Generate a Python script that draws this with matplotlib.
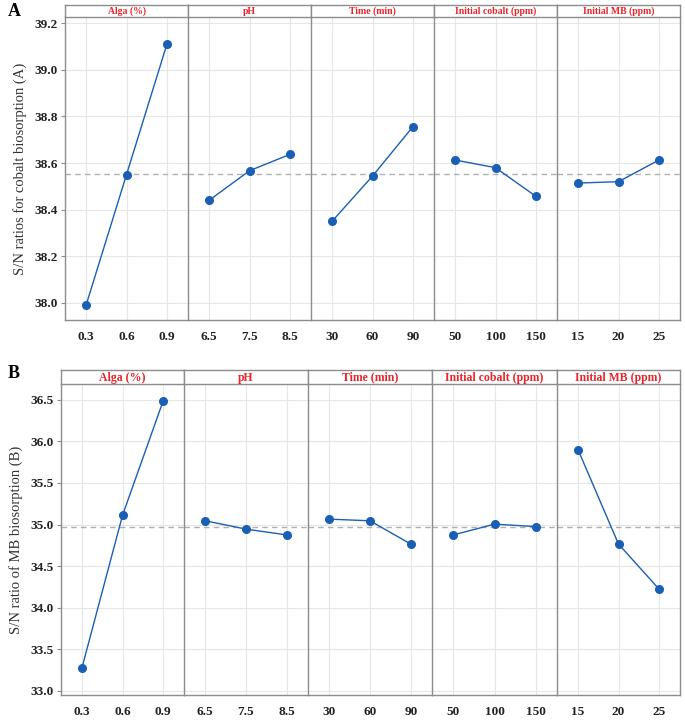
import matplotlib.pyplot as plt

factors = ["Alga (%)", "pH", "Time (min)", "Initial cobalt (ppm)", "Initial MB (ppm)"]
levels = [["0.3", "0.6", "0.9"],
          ["6.5", "7.5", "8.5"],
          ["30", "60", "90"],
          ["50", "100", "150"],
          ["15", "20", "25"]]

# S/N ratios, cobalt biosorption (A)
sn_alga_a = [37.99, 38.55, 39.11]
sn_ph_a = [38.44, 38.567, 38.637]
sn_time_a = [38.35, 38.544, 38.756]
sn_cobalt_a = [38.613, 38.58, 38.457]
sn_mb_a = [38.514, 38.52, 38.613]
mean_a = 38.552

# S/N ratios, MB biosorption (B)
sn_alga_b = [33.28, 35.11, 36.48]
sn_ph_b = [35.045, 34.945, 34.875]
sn_time_b = [35.065, 35.045, 34.765]
sn_cobalt_b = [34.875, 35.005, 34.975]
sn_mb_b = [35.9, 34.765, 34.225]
mean_b = 34.965

series_a = [sn_alga_a, sn_ph_a, sn_time_a, sn_cobalt_a, sn_mb_a]
series_b = [sn_alga_b, sn_ph_b, sn_time_b, sn_cobalt_b, sn_mb_b]

W, H = 685, 720
BLUE = "#1a5fb4"
RED = "#e8242a"
EDGE = "#8c8c8c"
SERIF = ["Liberation Serif", "DejaVu Serif"]

fig = plt.figure(figsize=(W / 100, H / 100), dpi=100)


def draw_panel(series, mean, edges, y_top, y_bot, strip_h, ylim, yticks,
               ylabel, letter, letter_y, strip_fs, label_x):
    for i, vals in enumerate(series):
        x0, x1 = edges[i], edges[i + 1]
        ax = fig.add_axes([x0 / W, 1 - y_bot / H, (x1 - x0) / W, (y_bot - y_top) / H])
        ax.plot([1, 2, 3], vals, color=BLUE, lw=1, marker="o", ms=5.5,
                mec=BLUE, mfc=BLUE, zorder=3)
        ax.axhline(mean, color="#b0b0b0", lw=1, ls=(0, (4, 3)), zorder=2)
        ax.set_xlim(0.48, 3.52)
        ax.set_ylim(*ylim)
        ax.set_xticks([1, 2, 3])
        ax.set_xticklabels(levels[i], family=SERIF, fontsize=9.5,
                           fontweight="bold", color="#222222")
        ax.set_yticks(yticks)
        ax.grid(True, color="#e6e6e6", lw=0.8, zorder=0)
        ax.set_axisbelow(True)
        for s in ax.spines.values():
            s.set_color(EDGE)
            s.set_linewidth(1)
        ax.spines["top"].set_visible(False)
        ax.tick_params(axis="x", length=0, pad=8)
        if i == 0:
            ax.set_yticklabels([f"{t:.1f}" for t in yticks], family=SERIF,
                               fontsize=9.5, fontweight="bold", color="#222222")
            ax.tick_params(axis="y", length=3, color=EDGE, pad=2)
        else:
            ax.tick_params(axis="y", length=0, labelleft=False)
        if i < len(series) - 1:
            ax.spines["right"].set_visible(False)

        # header strip
        sx = fig.add_axes([x0 / W, 1 - y_top / H, (x1 - x0) / W, strip_h / H])
        sx.set_xticks([])
        sx.set_yticks([])
        for s in sx.spines.values():
            s.set_color(EDGE)
            s.set_linewidth(1)
        sx.text(0.5, 0.45, factors[i], transform=sx.transAxes, ha="center",
                va="center", color=RED, fontsize=strip_fs, fontweight="bold",
                family=SERIF)

    fig.text(label_x / W, 1 - (y_top + y_bot) / 2 / H, ylabel, rotation=90,
             ha="center", va="center", family=SERIF, fontsize=10.5,
             color="#333333")
    fig.text(8 / W, 1 - letter_y / H, letter, family=SERIF, fontsize=13,
             fontweight="bold", ha="left", va="center")


draw_panel(series_a, mean_a, [65, 188, 311, 434, 557, 680], 17, 320, 12,
           (37.927, 39.226), [38.0, 38.2, 38.4, 38.6, 38.8, 39.0, 39.2],
           "S/N ratios for cobalt biosorption (A)", "A", 12, 7, 20)

draw_panel(series_b, mean_b, [61, 184, 308, 432, 557, 680], 384, 695, 14,
           (32.95, 36.69), [33.0, 33.5, 34.0, 34.5, 35.0, 35.5, 36.0, 36.5],
           "S/N ratio of MB biosorption (B)", "B", 373, 8.5, 16)

fig.savefig("out.png", dpi=100)
plt.close(fig)
